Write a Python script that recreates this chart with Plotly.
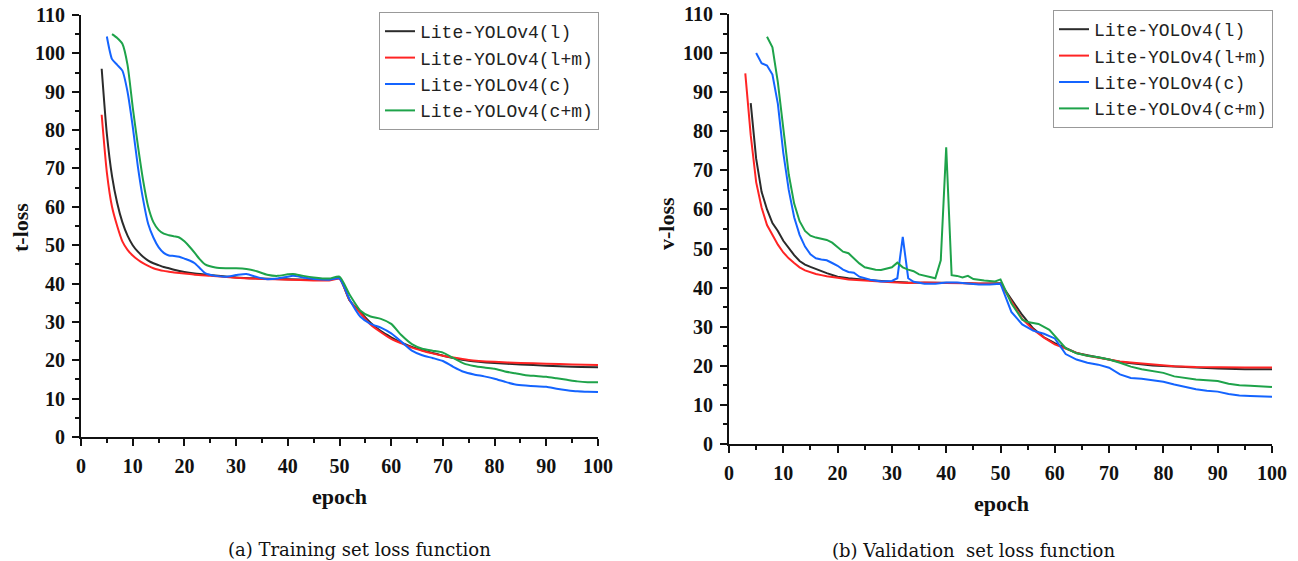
import plotly.graph_objects as go

names = ["Lite-YOLOv4(l)", "Lite-YOLOv4(l+m)", "Lite-YOLOv4(c)", "Lite-YOLOv4(c+m)"]
colors = ["#2b2b2b", "#ff2424", "#1464ff", "#1ea34a"]

# ---- Training set loss (t-loss) ----
tr_l_x = [4,5,6,7,8,9,10,11,12,13,14,15,16,17,18,20,22,25,30,35,40,45,48,50,52,54,56,58,60,62,64,66,68,70,72,75,80,85,90,95,100]
tr_l_y = [96,79,68,61,56,52.5,50,48.3,47,46,45.3,44.8,44.3,44,43.6,43,42.6,42.2,41.6,41.3,41.1,41,41,41.4,35.5,32.6,29.8,27.6,26,24.6,23.5,22.6,21.9,21.2,20.6,19.9,19.3,18.9,18.6,18.3,18.2]

tr_lm_x = [4,5,6,7,8,9,10,11,12,13,14,15,16,17,18,20,22,25,30,35,40,45,48,50,52,54,56,58,60,62,64,66,68,70,72,75,80,85,90,95,100]
tr_lm_y = [84,69,60,55,51,48.8,47.3,46.2,45.3,44.6,44,43.6,43.3,43.1,42.9,42.6,42.3,42,41.5,41.2,41,40.8,40.8,41.2,35.5,32.3,29.3,27.3,25.6,24.4,23.3,22.5,21.8,21.2,20.7,20.1,19.6,19.3,19.1,18.9,18.8]

tr_c_x = [5,6,7,8,9,10,11,12,13,14,15,16,17,18,19,20,21,22,23,24,26,28,30,32,34,36,38,40,41,43,45,48,50,52,54,56,58,60,62,64,66,68,70,72,74,76,78,80,82,84,86,88,90,92,94,96,98,100]
tr_c_y = [104.4,98.5,97,95.5,90,81,70.5,62,55.5,52,49.5,48,47.3,47.2,47,46.5,46,45.3,44,42.7,42,41.8,42.2,42.5,41.7,41.1,41.3,41.8,42,41.6,41.2,41,41.3,35.7,31.4,29.5,28.5,27,24.8,22.5,21.3,20.6,19.8,18.3,17,16.3,15.8,15.2,14.4,13.7,13.4,13.2,13.1,12.6,12.2,11.9,11.8,11.7]

tr_cm_x = [6,7,8,9,10,11,12,13,14,15,16,17,18,19,20,21,22,23,24,26,28,30,32,34,36,38,40,41,43,45,48,50,52,54,56,58,60,62,64,66,68,70,72,74,76,78,80,82,84,86,88,90,92,94,96,98,100]
tr_cm_y = [105,104,102.5,97,86,76,67,60,56,54,53,52.6,52.3,52,51,49.6,48,46.3,45,44.2,44,44,43.8,43.2,42.3,42,42.4,42.5,42,41.6,41.3,41.8,37,33,31.4,30.8,29.5,26.5,24.2,23,22.5,22,20.6,19.2,18.5,18.1,17.8,17.1,16.6,16.1,15.9,15.7,15.3,14.9,14.5,14.3,14.3]

# ---- Validation set loss (v-loss) ----
va_l_x = [4,5,6,7,8,9,10,11,12,13,14,15,16,17,18,20,22,25,28,30,33,36,40,43,46,50,52,54,56,58,60,62,64,66,68,70,72,75,78,82,86,90,95,100]
va_l_y = [87.2,73,64.5,60,56.5,54.5,52,50,48.3,46.8,45.9,45.3,44.7,44.2,43.7,42.8,42.4,42,41.6,41.5,41.3,41.3,41.2,41.2,41,41.1,37,33,29.6,27.3,25.8,24.5,23.3,22.7,22.2,21.6,21,20.5,20.1,19.8,19.5,19.3,19.1,19.1]

va_lm_x = [3,4,5,6,7,8,9,10,11,12,13,14,15,16,17,18,20,22,25,28,30,33,36,40,43,46,50,52,54,56,58,60,62,64,66,68,70,72,75,78,82,86,90,95,100]
va_lm_y = [94.8,79,67,60.5,56,53.3,51,49,47.5,46.3,45.2,44.4,43.9,43.5,43.2,42.9,42.5,42.1,41.8,41.5,41.4,41.2,41.3,41.2,41.1,41,41,36.5,32,29.3,27.2,25.5,24.3,23.3,22.6,22.1,21.6,21.1,20.7,20.3,19.9,19.7,19.6,19.6,19.6]

va_c_x = [5,6,7,8,9,10,11,12,13,14,15,16,17,18,19,20,21,22,23,24,26,28,30,31,32,33,34,36,38,40,42,44,46,48,50,52,54,56,58,60,62,64,66,68,70,72,74,76,78,80,82,84,86,88,90,92,94,96,98,100]
va_c_y = [100,97.4,96.8,94.5,87,74.5,65,58,53.5,50.5,48.5,47.5,47.2,47,46.3,45.6,44.6,44,43.8,42.8,42,41.6,41.7,42.4,53,42.4,41.5,41,41,41.3,41.3,41,40.8,40.8,41,33.8,30.6,29,28.2,27,23,21.6,20.8,20.3,19.5,17.8,16.9,16.7,16.3,15.9,15.2,14.6,14,13.6,13.4,12.8,12.4,12.3,12.2,12.1]

va_cm_x = [7,8,9,10,11,12,13,14,15,16,17,18,19,20,21,22,23,24,25,26,27,28,29,30,31,32,33,34,35,36,37,38,39,40,41,42,43,44,45,47,49,50,52,54,55,57,59,61,62,64,66,68,70,72,74,76,78,80,82,84,86,88,90,92,94,96,98,100]
va_cm_y = [104.2,101.5,92.5,80,69,61.5,57,54.5,53.3,52.8,52.5,52.2,51.5,50.3,49.2,48.8,47.5,46.2,45.2,44.8,44.6,44.5,44.8,45.2,46.4,45.2,44.6,44.2,43.4,43,42.6,42.4,47,75.9,43.2,43,42.6,43,42.2,41.8,41.6,42.1,36,31.8,31.2,30.7,29.2,26,24.5,23.2,22.6,22.2,21.6,20.8,19.8,19.1,18.6,18.2,17.3,16.9,16.5,16.3,16.1,15.4,15,14.9,14.8,14.6]

train = [(tr_l_x, tr_l_y), (tr_lm_x, tr_lm_y), (tr_c_x, tr_c_y), (tr_cm_x, tr_cm_y)]
valid = [(va_l_x, va_l_y), (va_lm_x, va_lm_y), (va_c_x, va_c_y), (va_cm_x, va_cm_y)]

x_ticks = [0, 10, 20, 30, 40, 50, 60, 70, 80, 90, 100]
y_ticks = [0, 10, 20, 30, 40, 50, 60, 70, 80, 90, 100, 110]

W, H = 1298, 561

fig = go.Figure()
for i, (x, y) in enumerate(train):
    fig.add_trace(go.Scatter(x=x, y=y, mode="lines", name=names[i],
                             line=dict(color=colors[i], width=2, shape="spline", smoothing=0.6),
                             xaxis="x", yaxis="y", legend="legend"))
for i, (x, y) in enumerate(valid):
    fig.add_trace(go.Scatter(x=x, y=y, mode="lines", name=names[i],
                             line=dict(color=colors[i], width=2),
                             xaxis="x2", yaxis="y2", legend="legend2"))

serif = "Liberation Serif"
tickfont = dict(family=serif, size=20, color="#111", weight="bold")

def xax(domain, anchor):
    return dict(domain=domain, anchor=anchor, range=[0, 100], tickvals=x_ticks,
                showline=True, linecolor="#111", linewidth=2, ticks="outside",
                ticklen=7, tickwidth=2, tickcolor="#111", showgrid=False, zeroline=False,
                tickfont=tickfont, automargin=False, ticklabelstandoff=3,
                minor=dict(dtick=5, tick0=0, ticks="outside", ticklen=4, tickwidth=2, tickcolor="#111", showgrid=False))

def yax(domain, anchor):
    return dict(domain=domain, anchor=anchor, range=[0, 110], tickvals=y_ticks,
                showline=True, linecolor="#111", linewidth=2, ticks="outside",
                ticklen=7, tickwidth=2, tickcolor="#111", showgrid=False, zeroline=False,
                tickfont=tickfont, automargin=False, ticklabelstandoff=3,
                minor=dict(dtick=5, tick0=0, ticks="outside", ticklen=4, tickwidth=2, tickcolor="#111", showgrid=False))

legfont = dict(family="Liberation Mono", size=18, color="#222")
titlefont = dict(family=serif, size=22, color="#111", weight="bold")
capfont = dict(family="DejaVu Serif", size=18, color="#111")

def ann(text, px, py, font, angle=0):
    return dict(text=text, x=px / W, y=1 - py / H, xref="paper", yref="paper", showarrow=False,
                xanchor="center", yanchor="middle", font=font, textangle=angle)

fig.update_layout(
    width=W, height=H,
    margin=dict(l=0, r=0, t=0, b=0),
    plot_bgcolor="white", paper_bgcolor="white",
    xaxis=xax([81 / W, 598 / W], "y"),
    yaxis=yax([1 - 437 / H, 1 - 15 / H], "x"),
    xaxis2=xax([729 / W, 1272 / W], "y2"),
    yaxis2=yax([1 - 444 / H, 1 - 14 / H], "x2"),
    legend=dict(x=599 / W, y=1 - 12 / H, xanchor="right", yanchor="top", font=legfont,
                bgcolor="white", bordercolor="#999", borderwidth=1, tracegroupgap=0),
    legend2=dict(x=1273 / W, y=1 - 10 / H, xanchor="right", yanchor="top", font=legfont,
                 bgcolor="white", bordercolor="#999", borderwidth=1, tracegroupgap=0),
    showlegend=True,
    annotations=[
        ann("t-loss", 20, 228, titlefont, -90),
        ann("v-loss", 666, 224, titlefont, -90),
        ann("epoch", 339, 496, titlefont),
        ann("epoch", 1001, 503, titlefont),
        ann("(a) Training set loss function", 360, 549, capfont),
        ann("(b) Validation  set loss function", 973, 550, capfont),
    ],
)

fig.write_html("out.html")
